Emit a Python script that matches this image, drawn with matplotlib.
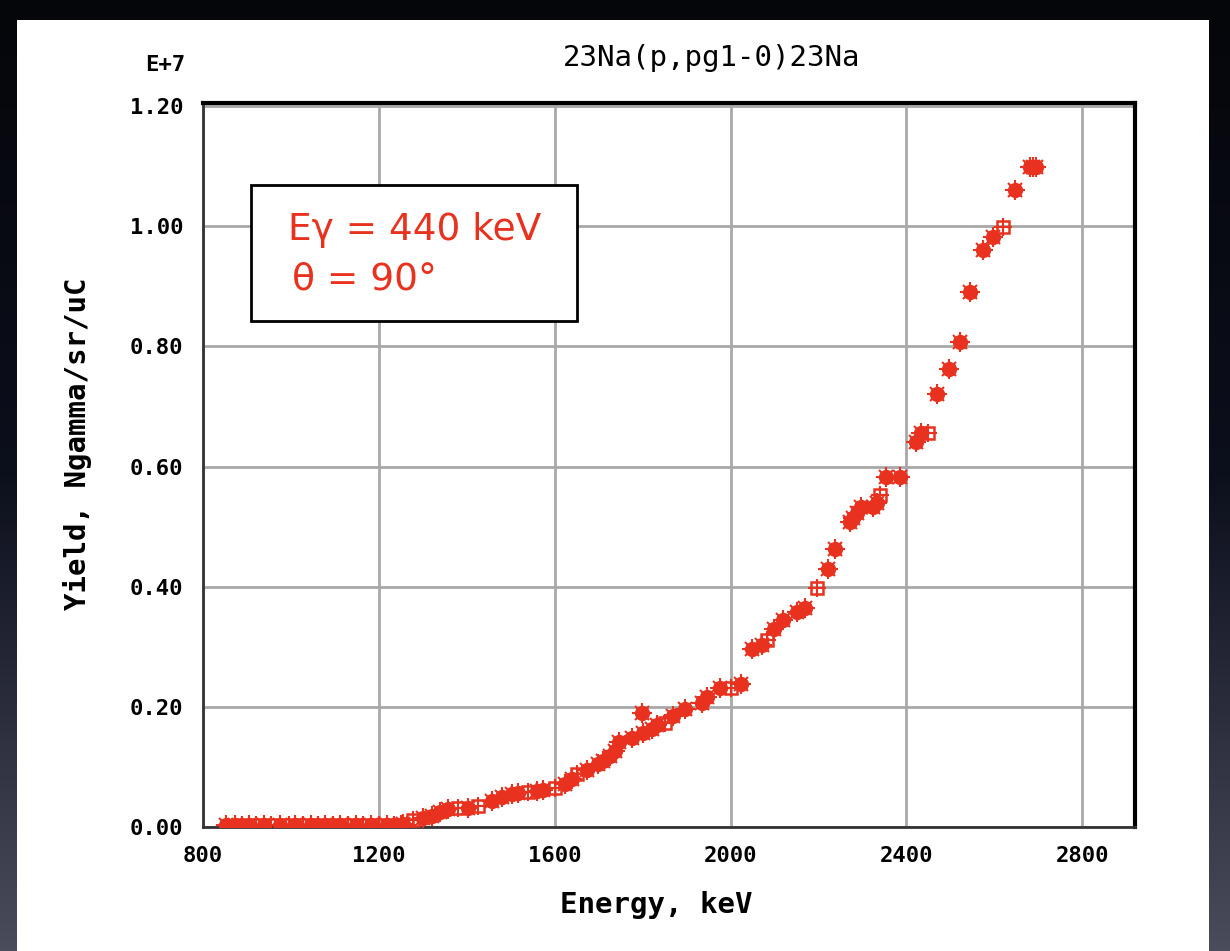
import matplotlib
matplotlib.use("Agg")
import matplotlib.pyplot as plt
import numpy as np
from matplotlib.patches import Rectangle
from matplotlib.colors import LinearSegmentedColormap

# filled points (energy keV, yield in 1e7)
e_filled = [852, 872, 905, 938, 975, 1010, 1045, 1078, 1112, 1148, 1182, 1218, 1250,
            1255, 1300, 1321, 1339, 1357, 1403, 1458, 1480, 1503, 1517, 1560, 1574,
            1624, 1640, 1674, 1699, 1710, 1726, 1737, 1747, 1776, 1799, 1801, 1822,
            1833, 1869, 1897, 1935, 1947, 1976, 2024, 2049, 2072, 2099, 2120, 2152,
            2170, 2222, 2238, 2272, 2279, 2288, 2297, 2324, 2333, 2354, 2386, 2422,
            2434, 2470, 2497, 2522, 2545, 2575, 2597, 2647, 2682, 2689, 2695]
y_filled = [0.004, 0.004, 0.004, 0.004, 0.004, 0.004, 0.004, 0.004, 0.004, 0.004, 0.004, 0.004, 0.004,
            0.005, 0.015, 0.018, 0.025, 0.030, 0.032, 0.043, 0.050, 0.055, 0.057, 0.060, 0.062,
            0.072, 0.080, 0.095, 0.105, 0.110, 0.118, 0.127, 0.142, 0.148, 0.190, 0.157, 0.163,
            0.170, 0.185, 0.197, 0.207, 0.217, 0.232, 0.238, 0.297, 0.303, 0.330, 0.345, 0.358,
            0.365, 0.430, 0.462, 0.508, 0.515, 0.523, 0.532, 0.532, 0.540, 0.582, 0.582, 0.640,
            0.655, 0.720, 0.762, 0.808, 0.890, 0.960, 0.982, 1.060, 1.098, 1.098, 1.098]

# open (square) points
e_open = [888, 920, 955, 995, 1028, 1062, 1095, 1130, 1165, 1200, 1235, 1265,
          1278, 1380, 1426, 1539, 1601, 1651, 1851, 2001, 2083, 2197, 2340, 2450, 2620]
y_open = [0.003, 0.003, 0.003, 0.003, 0.003, 0.003, 0.003, 0.003, 0.003, 0.003, 0.003, 0.003,
          0.012, 0.032, 0.035, 0.058, 0.065, 0.088, 0.173, 0.232, 0.312, 0.397, 0.552, 0.655, 0.998]

x_ticks = [800, 1200, 1600, 2000, 2400, 2800]
y_ticks = [0.0, 0.2, 0.4, 0.6, 0.8, 1.0, 1.2]

red = '#e8321f'
mono = 'DejaVu Sans Mono'

fig = plt.figure(figsize=(12.3, 9.51), dpi=100)

# dark slide background with slight gradient
bg = fig.add_axes([0, 0, 1, 1], zorder=-10)
cmap = LinearSegmentedColormap.from_list('bg', ['#05060a', '#0c0f1c', '#4a4c5c'])
grad = np.linspace(0, 1, 256).reshape(-1, 1)
bg.imshow(grad, aspect='auto', cmap=cmap, extent=[0, 1, 0, 1], origin='upper')
bg.add_patch(Rectangle((17 / 1230, 0), (1209 - 17) / 1230, 1 - 20 / 951,
                       facecolor='white', edgecolor='none'))
bg.set_xlim(0, 1)
bg.set_ylim(0, 1)
bg.axis('off')

ax = fig.add_axes([203 / 1230, 1 - 827 / 951, (1135 - 203) / 1230, (827 - 103) / 951])
ax.set_facecolor('white')
ax.set_xlim(800, 2920)
ax.set_ylim(0, 1.205)
ax.set_xticks(x_ticks)
ax.set_yticks(y_ticks)
ax.set_xticklabels([str(v) for v in x_ticks], fontfamily=mono, fontweight='bold', fontsize=16)
ax.set_yticklabels(['%.2f' % v for v in y_ticks], fontfamily=mono, fontweight='bold', fontsize=16)
ax.tick_params(length=0, pad=14)
ax.grid(True, color='#a8a8a8', linewidth=2)
ax.set_axisbelow(True)
for side in ['top', 'right']:
    ax.spines[side].set_linewidth(3)
    ax.spines[side].set_color('black')
for side in ['left', 'bottom']:
    ax.spines[side].set_linewidth(2)
    ax.spines[side].set_color('#333333')

# filled blob-like markers
ax.plot(e_filled, y_filled, 'o', color=red, ms=11, mew=0, zorder=3)
ax.plot(e_filled, y_filled, '+', color=red, ms=14, mew=1.5, zorder=3)
ax.plot(e_filled, y_filled, 'x', color=red, ms=10, mew=1.5, zorder=3)
# open square markers
ax.plot(e_open, y_open, 's', mfc='none', mec=red, ms=8, mew=1.8, zorder=3)
ax.plot(e_open, y_open, '+', color=red, ms=13, mew=1.5, zorder=3)

# annotation box
ax.add_patch(Rectangle((251 / 1230, 1 - 321 / 951), (577 - 251) / 1230, (321 - 185) / 951,
                       transform=fig.transFigure, facecolor='white', edgecolor='black',
                       linewidth=2, zorder=5))
fig.text(288 / 1230, 1 - 230 / 951, 'E\u03b3 = 440 keV', color=red, fontsize=27,
         family='DejaVu Sans', va='center', ha='left', zorder=6)
fig.text(292 / 1230, 1 - 280 / 951, '\u03b8 = 90\u00b0', color=red, fontsize=27,
         family='DejaVu Sans', va='center', ha='left', zorder=6)

fig.text(712 / 1230, 1 - 58 / 951, '23Na(p,pg1-0)23Na', fontfamily=mono,
         fontsize=21, ha='center', va='center')
fig.text(165 / 1230, 1 - 65 / 951, 'E+7', fontfamily=mono, fontweight='bold',
         fontsize=16, ha='center', va='center')
fig.text(656 / 1230, 1 - 905 / 951, 'Energy, keV', fontfamily=mono, fontweight='bold',
         fontsize=21, ha='center', va='center')
fig.text(78 / 1230, 1 - 444 / 951, 'Yield, Ngamma/sr/uC', fontfamily=mono, fontweight='bold',
         fontsize=21, ha='center', va='center', rotation=90)

fig.savefig('out.png', dpi=100, facecolor=fig.get_facecolor())
